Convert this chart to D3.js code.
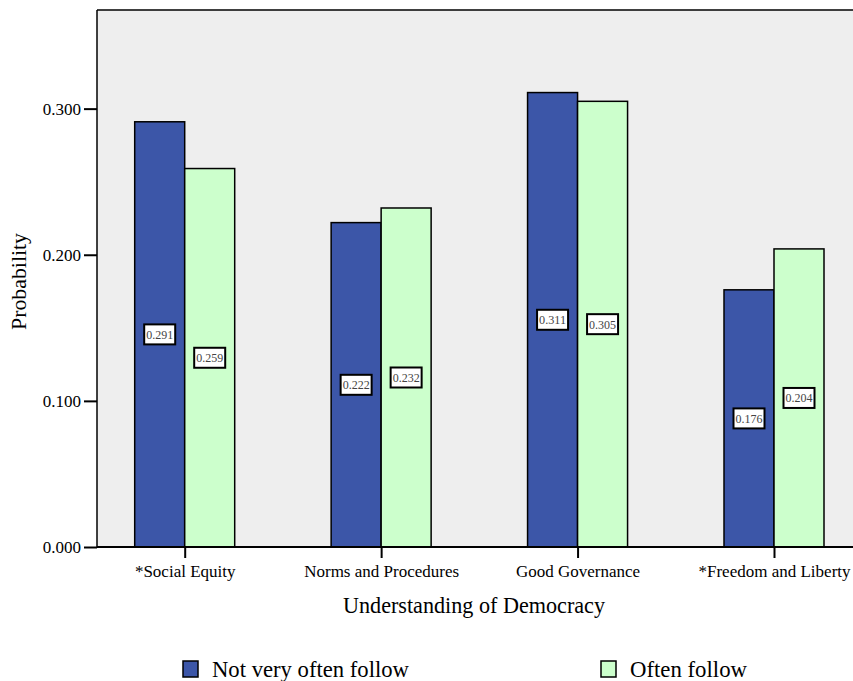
<!DOCTYPE html>
<html><head><meta charset="utf-8">
<script src="https://cdn.jsdelivr.net/npm/d3@7"></script>
<style>body{margin:0;background:#fff;} svg{display:block;}</style>
</head><body>
<svg id="c" width="853" height="681"></svg>
<script>
const categories = ["*Social Equity","Norms and Procedures","Good Governance","*Freedom and Liberty"];
const seriesNames = ["Not very often follow","Often follow"];
const notVeryOften = [0.291,0.222,0.311,0.176];
const often = [0.259,0.232,0.305,0.204];
const yTicks = [0,0.1,0.2,0.3];
const colors = ["#3c56a8","#ccffcc"];

(function(){
const svg = d3.select("#c");
const pL=97, pT=10, pR=853, pB=547;
const font = "Liberation Serif, DejaVu Serif, serif";

const y = d3.scaleLinear().domain([0,0.3675]).range([pB, pT]);
const x = d3.scalePoint().domain(categories).range([184.7, 774]);
const bw = 50;

svg.append("rect").attr("x",pL).attr("y",pT).attr("width",pR-pL).attr("height",pB-pT).attr("fill","#eeeeee");
svg.append("line").attr("x1",pL).attr("x2",pR).attr("y1",pT).attr("y2",pT).attr("stroke","#000").attr("stroke-width",1.5);

const data = categories.map((c,i)=>({c, vals:[notVeryOften[i], often[i]]}));
const g = svg.append("g");
data.forEach(d=>{
  d.vals.forEach((v,j)=>{
    const x0 = x(d.c) + (j-1)*bw;
    g.append("rect").attr("x",x0).attr("y",y(v)).attr("width",bw).attr("height",y(0)-y(v))
      .attr("fill",colors[j]).attr("stroke","#000").attr("stroke-width",1.5);
    const cy = (y(v)+y(0))/2, cx = x0+bw/2;
    g.append("rect").attr("x",cx-15.5).attr("y",cy-10).attr("width",31).attr("height",20)
      .attr("fill","#fff").attr("stroke","#000").attr("stroke-width",2);
    g.append("text").attr("x",cx).attr("y",cy+4.5).attr("text-anchor","middle")
      .style("font-family",font).style("font-size","13px").attr("fill","#444")
      .attr("textLength",27).attr("lengthAdjust","spacingAndGlyphs")
      .text(d3.format(".3f")(v));
  });
});

const ya = svg.append("g").attr("transform",`translate(${pL},0)`)
  .call(d3.axisLeft(y).tickValues(yTicks).tickFormat(d3.format(".3f")).tickSize(13).tickPadding(3));
ya.attr("font-family",null).attr("font-size",null);
ya.select(".domain").attr("stroke-width",1.5).attr("d",`M-0,${pT}V${pB}`);
ya.selectAll(".tick line").attr("stroke-width",2);
ya.selectAll("text").style("font-family",font).style("font-size","17px").attr("fill","#000");

const xa = svg.append("g").attr("transform",`translate(0,${pB})`)
  .call(d3.axisBottom(x).tickSize(11).tickPadding(7));
xa.attr("font-family",null).attr("font-size",null);
xa.select(".domain").attr("stroke-width",2).attr("d",`M${pL},0H${pR}`);
xa.selectAll(".tick line").attr("stroke-width",2);
xa.selectAll("text").style("font-family",font).style("font-size","17px").attr("fill","#000");

svg.append("text").attr("x",474).attr("y",613).attr("text-anchor","middle")
  .style("font-family",font).style("font-size","23px")
  .attr("textLength",262).attr("lengthAdjust","spacingAndGlyphs").text("Understanding of Democracy");
svg.append("text").attr("transform","translate(26,281.5) rotate(-90)").attr("text-anchor","middle")
  .style("font-family",font).style("font-size","22px")
  .attr("textLength",97).attr("lengthAdjust","spacingAndGlyphs").text("Probability");

const legX = [183, 601];
const legW = [197, 117];
seriesNames.forEach((n,i)=>{
  svg.append("rect").attr("x",legX[i]).attr("y",661).attr("width",15).attr("height",16)
    .attr("fill",colors[i]).attr("stroke","#000").attr("stroke-width",1.5);
  svg.append("text").attr("x",legX[i]+29).attr("y",677).style("font-family",font).style("font-size","23px")
    .attr("textLength",legW[i]).attr("lengthAdjust","spacingAndGlyphs").text(n);
});
})();
</script>
</body></html>
